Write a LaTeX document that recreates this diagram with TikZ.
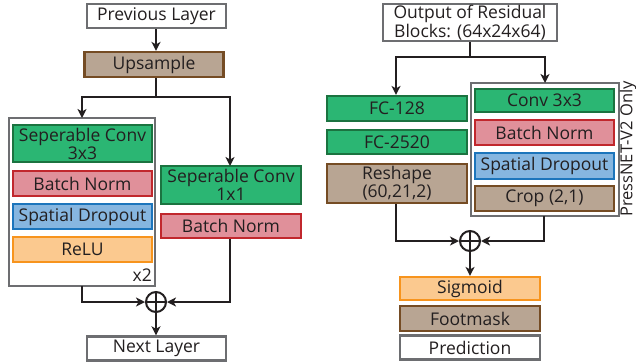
\documentclass[tikz,border=0pt]{standalone}
\usepackage{fontspec}
\setmainfont{Open Sans}
\usetikzlibrary{arrows.meta}
\definecolor{txt}{HTML}{231F20}
\definecolor{gfill}{HTML}{2BB673}
\definecolor{gdraw}{HTML}{1B7340}
\definecolor{pfill}{HTML}{E0909A}
\definecolor{pdraw}{HTML}{C1272D}
\definecolor{bfill}{HTML}{86B6E0}
\definecolor{bdraw}{HTML}{1C75BC}
\definecolor{ofill}{HTML}{FBC98F}
\definecolor{odraw}{HTML}{F7941D}
\definecolor{brfill}{HTML}{B8A593}
\definecolor{brdraw}{HTML}{754C24}
\definecolor{gray}{HTML}{6D6E71}
\tikzset{
  blk/.style={rectangle, line width=2.2pt, inner sep=0pt, align=center, text=txt, font=\fontsize{17.5}{16}\selectfont},
  whitebox/.style={blk, draw=gray, fill=white},
  greenbox/.style={blk, draw=gdraw, fill=gfill},
  pinkbox/.style={blk, draw=pdraw, fill=pfill},
  bluebox/.style={blk, draw=bdraw, fill=bfill},
  orangebox/.style={blk, draw=odraw, fill=ofill},
  brownbox/.style={blk, draw=brdraw, fill=brfill},
  groupbox/.style={draw=gray, line width=2.4pt},
  conn/.style={draw=txt, line width=2pt},
  arr/.style={conn, -{Stealth[length=9pt,width=9pt,inset=2.5pt]}},
  addc/.style={circle, draw=txt, line width=2pt, minimum size=20pt, inner sep=0pt},
}
\begin{document}
\begin{tikzpicture}[x=1pt,y=-1pt]
\useasboundingbox (0,0) rectangle (636,362);
% ---------- left ----------
\node[whitebox, minimum width=139pt, minimum height=24pt, line width=2.4pt] (prev) at (156.5,16) {Previous Layer};
\node[brownbox, minimum width=139pt, minimum height=25pt] (ups) at (154,64.5) {Upsample};
\draw[groupbox] (9,118) rectangle (155,286);
\coordinate (lgtop) at (82,118);
\coordinate (lgbot) at (82,286);
\node[greenbox, minimum width=139pt, minimum height=37pt] (sep3) at (82.5,143.5) {Seperable Conv\\3x3};
\node[pinkbox, minimum width=139pt, minimum height=25pt] (bn1) at (82.5,183.5) {Batch Norm};
\node[bluebox, minimum width=139pt, minimum height=25pt] (sd1) at (82.5,216.5) {Spatial Dropout};
\node[orangebox, minimum width=139pt, minimum height=25pt] (relu) at (82.5,249.5) {ReLU};
\node[blk, anchor=east] (x2) at (153,275) {x2};
\node[greenbox, minimum width=140pt, minimum height=38pt] (sep1) at (231,185) {Seperable Conv\\1x1};
\node[pinkbox, minimum width=140pt, minimum height=24pt] (bn2) at (231,226) {Batch Norm};
\node[addc] (add1) at (156,302) {};
\draw[txt, line width=1.5pt] (add1.north) -- (add1.south) (add1.west) -- (add1.east);
\node[whitebox, minimum width=139pt, minimum height=24pt, line width=2.4pt] (next) at (156.5,348.5) {Next Layer};
\coordinate (split1) at (156,97);
\draw[conn] (156,78) -- (split1);
\draw[arr] (prev.south -| split1) -- (ups.north -| split1);
\draw[arr] (split1) -| (lgtop);
\draw[arr] (split1) -| (230,166);
\draw[arr] (lgbot) |- (add1.west);
\draw[arr] (bn2.south -| 230,0) |- (add1.east);
\draw[arr] (add1.south) -- (next.north -| add1);
% ---------- right ----------
\node[whitebox, minimum width=174pt, minimum height=37pt, line width=2.4pt] (out) at (470,22.5) {Output of Residual\\Blocks: (64x24x64)};
\node[greenbox, minimum width=140pt, minimum height=25pt] (fc1) at (397,108.5) {FC-128};
\node[greenbox, minimum width=140pt, minimum height=24pt] (fc2) at (397,142) {FC-2520};
\node[brownbox, minimum width=140pt, minimum height=39pt] (resh) at (397,183.5) {Reshape\\(60,21,2)};
\draw[groupbox] (471,83) rectangle (619,216);
\coordinate (rgtop) at (545,83);
\coordinate (rgbot) at (544,216);
\node[greenbox, minimum width=139pt, minimum height=23pt] (conv) at (544.5,100.5) {Conv 3x3};
\node[pinkbox, minimum width=139pt, minimum height=25pt] (bn3) at (544.5,132.5) {Batch Norm};
\node[bluebox, minimum width=139pt, minimum height=26pt] (sd2) at (544.5,166) {Spatial Dropout};
\node[brownbox, minimum width=139pt, minimum height=25pt] (crop) at (544.5,198.5) {Crop (2,1)};
\node[blk, rotate=90, font=\fontsize{16.5}{16}\selectfont] (only) at (628,149) {PressNET-V2 Only};
\node[addc] (add2) at (470,241) {};
\draw[txt, line width=1.5pt] (add2.north) -- (add2.south) (add2.west) -- (add2.east);
\node[orangebox, minimum width=140pt, minimum height=23pt] (sig) at (470,288.5) {Sigmoid};
\node[brownbox, minimum width=140pt, minimum height=25pt] (foot) at (470,318.5) {Footmask};
\node[whitebox, minimum width=140pt, minimum height=24pt, line width=2.4pt] (pred) at (470,347.5) {Prediction};
\coordinate (split2) at (470,57);
\draw[conn] (out.south -| split2) -- (split2);
\draw[arr] (split2) -| (fc1.north -| 396,0);
\draw[arr] (split2) -| (rgtop);
\draw[arr] (resh.south -| 396,0) |- (add2.west);
\draw[arr] (rgbot) |- (add2.east);
\draw[arr] (add2.south) -- (sig.north);
\end{tikzpicture}
\end{document}
